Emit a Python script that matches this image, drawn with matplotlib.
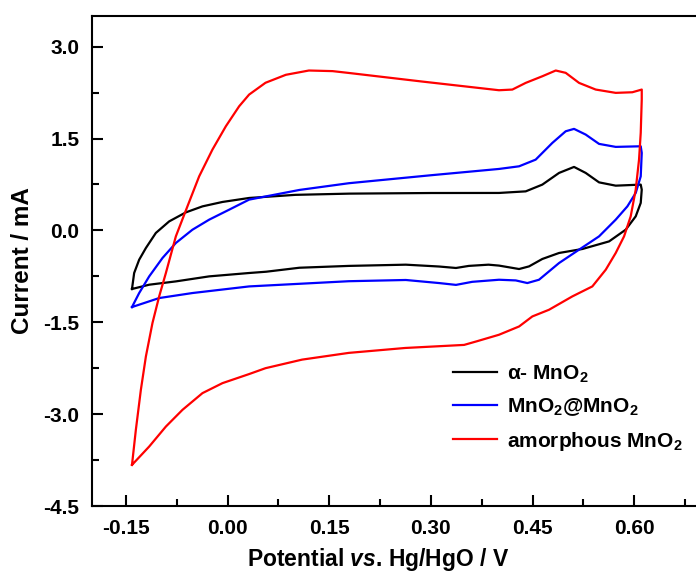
import numpy as np
import matplotlib
matplotlib.use("Agg")
import matplotlib.pyplot as plt
from matplotlib.ticker import MultipleLocator, FormatStrFormatter

# CV loops (potential in V, current in mA)
# each loop: start at the left vertex, anodic branch to the right, cathodic branch back
alpha_x = [-0.141, -0.1378, -0.1304, -0.1205, -0.1058, -0.0861, -0.0615, -0.037, -0.0075, 0.0318,
           0.10, 0.18, 0.30, 0.4005, 0.4399, 0.4644, 0.4891, 0.5112, 0.5284, 0.5481, 0.5727, 0.6096,
           0.6111, 0.6096, 0.6022, 0.5874, 0.5629, 0.5235, 0.4891, 0.4644, 0.4448, 0.4301, 0.4005,
           0.385, 0.356, 0.337, 0.312, 0.263, 0.179, 0.106, 0.057, 0.0318, -0.0271, -0.0763,
           -0.1156, -0.141]
alpha_y = [-0.957, -0.696, -0.479, -0.288, -0.042, 0.147, 0.294, 0.392, 0.464, 0.529,
           0.58, 0.60, 0.61, 0.611, 0.637, 0.747, 0.938, 1.036, 0.938, 0.784, 0.730, 0.747,
           0.665, 0.448, 0.229, 0.011, -0.180, -0.304, -0.369, -0.467, -0.588, -0.631, -0.575,
           -0.56, -0.58, -0.614, -0.59, -0.56, -0.58, -0.61, -0.675, -0.696, -0.751, -0.833,
           -0.887, -0.957]

core_x = [-0.141, -0.1304, -0.1156, -0.096, -0.0763, -0.0518, -0.0271, 0.0024, 0.0318, 0.106,
          0.179, 0.30, 0.4005, 0.4301, 0.4546, 0.4792, 0.4989, 0.5112, 0.5284, 0.5481, 0.5727,
          0.6096, 0.6111, 0.6096, 0.6022, 0.5899, 0.5727, 0.5481, 0.5186, 0.4891, 0.4595, 0.4423,
          0.4252, 0.4005, 0.361, 0.337, 0.312, 0.263, 0.179, 0.0318, -0.0518, -0.1009, -0.141]
core_y = [-1.252, -1.023, -0.751, -0.451, -0.206, 0.011, 0.175, 0.338, 0.502, 0.66,
          0.77, 0.90, 1.003, 1.046, 1.155, 1.428, 1.618, 1.657, 1.564, 1.412, 1.363,
          1.373, 1.265, 0.882, 0.611, 0.392, 0.175, -0.098, -0.315, -0.533, -0.806, -0.860,
          -0.817, -0.806, -0.84, -0.89, -0.86, -0.81, -0.83, -0.915, -1.023, -1.105, -1.252]

amor_x = [-0.141, -0.1353, -0.1279, -0.1205, -0.1108, -0.1009, -0.091, -0.0763, -0.0592, -0.0419,
          -0.0223, -0.0025, 0.0171, 0.0318, 0.056, 0.086, 0.120, 0.155, 0.179, 0.287, 0.4005,
          0.4202, 0.4399, 0.4644, 0.4842, 0.4989, 0.5186, 0.5432, 0.5727, 0.5972, 0.6111,
          0.6111, 0.6096, 0.6071, 0.6022, 0.5948, 0.585, 0.5727, 0.558, 0.5382, 0.5087, 0.4743,
          0.4497, 0.4301, 0.4005, 0.368, 0.349, 0.262, 0.179, 0.11, 0.056, 0.0318, -0.0075,
          -0.037, -0.0665, -0.091, -0.1156, -0.141]
amor_y = [-3.829, -3.257, -2.603, -2.059, -1.513, -1.078, -0.696, -0.098, 0.392, 0.882,
          1.319, 1.70, 2.026, 2.217, 2.41, 2.54, 2.61, 2.60, 2.57, 2.43, 2.288,
          2.299, 2.408, 2.516, 2.610, 2.572, 2.408, 2.299, 2.245, 2.255, 2.299,
          2.136, 1.592, 1.155, 0.665, 0.229, -0.098, -0.369, -0.642, -0.915, -1.078, -1.296,
          -1.405, -1.569, -1.704, -1.81, -1.87, -1.92, -2.00, -2.11, -2.25, -2.346, -2.494,
          -2.657, -2.930, -3.203, -3.529, -3.829]

labels = [r"α- MnO$_2$", r"MnO$_2$@MnO$_2$", r"amorphous MnO$_2$"]
colors = ["black", "#0000ff", "#ff0000"]

plt.rcParams["font.family"] = ["Liberation Sans", "DejaVu Sans"]
plt.rcParams["font.weight"] = "bold"
plt.rcParams["axes.unicode_minus"] = False
plt.rcParams["mathtext.fontset"] = "custom"
plt.rcParams["mathtext.rm"] = "Liberation Sans:bold"
plt.rcParams["mathtext.it"] = "Liberation Sans:italic:bold"
plt.rcParams["mathtext.bf"] = "Liberation Sans:bold"
plt.rcParams["mathtext.default"] = "rm"

fig = plt.figure(figsize=(6.96, 5.72), dpi=100)
ax = fig.add_axes([92 / 696, 66 / 572, 610 / 696, 490 / 572])

for xs, ys, lab, c in zip([alpha_x, core_x, amor_x], [alpha_y, core_y, amor_y], labels, colors):
    ax.plot(xs, ys, color=c, lw=1.6, label=lab, solid_joinstyle="round")

ax.set_xlim(-0.2, 0.7)
ax.set_ylim(-4.5, 3.5)
ax.xaxis.set_minor_locator(MultipleLocator(0.075))
ax.yaxis.set_minor_locator(MultipleLocator(0.75))
ax.set_xticks([-0.15, 0.0, 0.15, 0.30, 0.45, 0.60])
ax.set_yticks([-4.5, -3.0, -1.5, 0.0, 1.5, 3.0])
ax.xaxis.set_major_formatter(FormatStrFormatter("%.2f"))
ax.yaxis.set_major_formatter(FormatStrFormatter("%.1f"))

ax.tick_params(which="both", direction="in", top=False, right=False, width=1.5)
ax.tick_params(which="major", length=8, labelsize=15, pad=9)
ax.tick_params(which="minor", length=5)
for s in ax.spines.values():
    s.set_linewidth(1.5)

ax.set_xlabel(r"Potential $\mathit{vs}$. Hg/HgO / V", fontsize=16.5, fontweight="bold")
ax.xaxis.set_label_coords((378 - 92) / 610, (506 - 546) / 490)
ax.set_ylabel("Current / mA", fontsize=17.5, fontweight="bold")
ax.yaxis.set_label_coords((34 - 92) / 610, 0.5)

leg = ax.legend(loc="center left", bbox_to_anchor=(0.592, 0.200), frameon=False,
                fontsize=15, handlelength=2.1, handletextpad=0.5, labelspacing=0.55,
                borderpad=0, borderaxespad=0)

fig.savefig("out.png", dpi=100)
